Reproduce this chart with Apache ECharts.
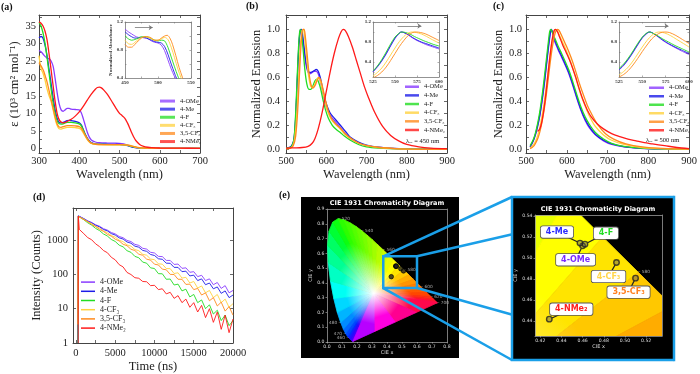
<!DOCTYPE html>
<html>
<head>
<meta charset="utf-8">
<title>Figure</title>
<script src="https://cdn.jsdelivr.net/npm/echarts@6.0.0/dist/echarts.min.js"></script>
<style>
  html, body { margin: 0; padding: 0; background: #fff; }
  #fig { width: 700px; height: 374px; }
</style>
</head>
<body>
<div id="fig"></div>
<script>
// ---------- data ----------
const names = ['4-OMe', '4-Me', '4-F', '4-CF₃', '3,5-CF₃', '4-NMe₂'];
const colors = ['#8a3cff', '#1c1ce8', '#22dd22', '#ffd23f', '#ff8a1c', '#ff1a1a'];

// (a) absorption, epsilon (10^3 cm2 mol-1) vs wavelength (nm)
const absOMe = [[300,28.0],[305,27.6],[310,27.0],[315,26.3],[320,25.8],[325,25.6],[330,25.0],[335,23.5],[340,20.0],[345,16.0],[350,12.8],[355,11.0],[360,10.6],[365,11.0],[370,11.4],[375,11.4],[380,11.2],[390,11.1],[400,11.0],[405,10.2],[410,8.5],[415,6.5],[420,4.6],[425,3.2],[430,2.4],[440,1.8],[450,1.6],[470,1.5],[490,1.45],[500,1.4],[510,1.25],[520,0.9],[530,0.45],[540,0.2],[550,0.08],[570,0.02],[600,0],[700,0]];
const absMe = [[300,31.6],[305,32.0],[310,31.5],[315,29.5],[320,26.5],[325,22.5],[330,18.5],[335,14.5],[340,11.0],[345,8.6],[350,7.4],[355,7.3],[360,7.4],[370,7.9],[375,8.0],[380,7.9],[390,7.7],[400,7.3],[405,6.7],[410,5.4],[415,4.0],[420,2.9],[425,2.1],[430,1.6],[440,1.25],[460,1.15],[480,1.1],[500,1.1],[510,1.0],[520,0.75],[530,0.4],[540,0.18],[550,0.07],[570,0.02],[600,0],[700,0]];
const absF = [[300,36.0],[305,35.0],[310,33.0],[315,30.0],[320,26.0],[325,21.5],[330,17.0],[335,13.0],[340,10.0],[345,7.9],[350,7.0],[355,6.9],[360,7.0],[370,7.4],[380,7.4],[390,7.3],[400,7.0],[405,6.5],[410,5.2],[415,3.8],[420,2.7],[425,1.9],[430,1.5],[440,1.2],[460,1.1],[500,1.05],[510,1.0],[520,0.85],[530,0.55],[540,0.25],[550,0.1],[570,0.02],[600,0],[700,0]];
const absCF3 = [[300,26.5],[303,24.0],[306,22.5],[310,21.5],[315,19.5],[320,17.0],[325,15.0],[330,13.5],[335,11.0],[340,8.5],[345,6.5],[350,5.6],[355,5.5],[360,5.7],[370,6.0],[380,6.0],[390,5.9],[400,5.7],[405,5.3],[410,4.4],[415,3.4],[420,2.5],[425,1.8],[430,1.4],[440,1.1],[460,1.0],[500,1.0],[515,0.95],[525,0.8],[535,0.5],[545,0.22],[555,0.08],[575,0.02],[600,0],[700,0]];
const absCF35 = [[300,24.5],[305,23.6],[308,23.0],[312,22.0],[316,20.5],[320,19.0],[325,16.5],[330,14.0],[335,11.5],[340,9.0],[345,7.0],[350,6.1],[355,6.0],[360,6.2],[370,6.5],[380,6.5],[390,6.4],[400,6.2],[405,5.8],[410,4.8],[415,3.7],[420,2.7],[425,1.9],[430,1.5],[440,1.15],[460,1.05],[500,1.05],[515,1.0],[525,0.85],[535,0.55],[545,0.25],[555,0.09],[575,0.02],[600,0],[700,0]];
const absNMe2 = [[300,36.2],[305,35.8],[310,35.0],[315,33.5],[320,31.0],[325,27.0],[330,22.5],[335,18.0],[340,13.5],[345,10.0],[350,8.2],[355,7.5],[360,7.3],[365,7.4],[370,7.7],[380,8.3],[390,9.2],[400,10.4],[410,12.0],[420,13.8],[430,15.5],[440,16.9],[445,17.4],[450,17.5],[455,17.3],[460,16.8],[470,15.4],[480,13.6],[490,11.7],[500,10.0],[505,9.5],[510,9.0],[515,8.3],[520,7.2],[525,5.9],[530,4.5],[535,3.3],[540,2.3],[550,1.1],[560,0.55],[570,0.3],[580,0.18],[600,0.08],[650,0.02],[700,0]];

// (a) inset, normalized absorbance
const insAOMe = [[450,1.10],[455,1.06],[460,1.03],[465,1.00],[470,0.98],[475,0.98],[480,0.97],[485,0.96],[490,0.93],[495,0.91],[500,0.90],[505,0.87],[510,0.79],[515,0.66],[520,0.53],[525,0.42],[528,0.36]];
const insAMe = [[450,1.06],[455,1.02],[460,0.99],[465,0.97],[470,0.97],[475,0.98],[480,0.98],[485,0.96],[490,0.94],[495,0.92],[500,0.91],[505,0.90],[510,0.85],[515,0.74],[520,0.60],[525,0.47],[530,0.35]];
const insAF = [[450,1.00],[455,0.96],[460,0.94],[465,0.95],[470,0.97],[475,0.99],[480,0.99],[485,0.98],[490,0.96],[495,0.94],[500,0.93],[505,0.94],[510,0.93],[515,0.84],[520,0.70],[525,0.56],[530,0.43],[533,0.36]];
const insACF3 = [[450,0.94],[455,0.89],[460,0.88],[465,0.91],[470,0.95],[475,0.98],[480,0.99],[485,0.98],[490,0.96],[495,0.94],[500,0.94],[505,0.96],[510,0.98],[515,0.95],[520,0.84],[525,0.69],[530,0.53],[535,0.40],[537,0.35]];
const insACF35 = [[450,0.88],[455,0.84],[460,0.84],[465,0.88],[470,0.93],[475,0.97],[480,0.99],[485,0.99],[490,0.97],[495,0.94],[500,0.94],[505,0.97],[510,1.00],[514,1.01],[518,0.97],[522,0.88],[527,0.72],[532,0.55],[537,0.41],[540,0.34]];
const arrowA = [[465, 1.12], [492, 1.12]];

// (b) emission, excitation 450 nm
const emBOMe = [[500,0.01],[510,0.015],[515,0.03],[520,0.08],[524,0.25],[528,0.55],[532,0.85],[535,0.98],[537,1.0],[540,0.95],[545,0.82],[550,0.7],[555,0.64],[560,0.63],[565,0.64],[570,0.65],[575,0.65],[580,0.63],[585,0.57],[590,0.49],[595,0.41],[600,0.35],[610,0.28],[620,0.24],[630,0.2],[640,0.16],[650,0.12],[660,0.09],[680,0.05],[700,0.03],[730,0.015],[770,0.006],[820,0.002],[900,0]];
const emBMe = [[500,0.012],[510,0.018],[515,0.035],[520,0.09],[524,0.27],[528,0.57],[532,0.87],[535,0.98],[538,1.0],[541,0.96],[545,0.85],[550,0.72],[555,0.65],[560,0.64],[565,0.645],[570,0.655],[575,0.665],[580,0.65],[585,0.6],[590,0.52],[595,0.44],[600,0.38],[610,0.3],[620,0.26],[630,0.22],[640,0.18],[650,0.14],[660,0.1],[680,0.06],[700,0.035],[730,0.017],[770,0.007],[820,0.002],[900,0]];
const emBF = [[500,0.01],[510,0.015],[515,0.03],[520,0.09],[524,0.3],[528,0.62],[532,0.9],[535,1.0],[538,0.97],[542,0.85],[547,0.66],[552,0.54],[557,0.5],[562,0.5],[567,0.53],[572,0.57],[577,0.585],[582,0.55],[587,0.49],[592,0.41],[598,0.33],[605,0.26],[615,0.2],[625,0.165],[635,0.14],[645,0.11],[660,0.075],[680,0.04],[700,0.02],[730,0.01],[780,0.003],[900,0]];
const emBCF3 = [[500,0.005],[510,0.01],[517,0.03],[522,0.1],[527,0.3],[532,0.62],[536,0.88],[540,0.99],[543,1.0],[546,0.94],[550,0.8],[555,0.64],[560,0.54],[565,0.515],[570,0.53],[575,0.57],[580,0.6],[585,0.57],[590,0.5],[596,0.41],[603,0.32],[612,0.25],[622,0.21],[632,0.18],[645,0.13],[660,0.09],[680,0.05],[700,0.03],[730,0.015],[780,0.004],[900,0]];
const emBCF35 = [[500,0.005],[510,0.008],[518,0.03],[524,0.11],[529,0.32],[534,0.66],[538,0.9],[542,1.0],[545,1.0],[548,0.94],[552,0.81],[557,0.64],[562,0.54],[567,0.51],[572,0.53],[577,0.57],[582,0.6],[587,0.57],[592,0.5],[598,0.41],[605,0.32],[614,0.25],[624,0.21],[634,0.18],[647,0.13],[662,0.09],[682,0.05],[702,0.03],[732,0.015],[782,0.004],[900,0]];
const emBNMe2 = [[500,0.01],[520,0.012],[540,0.015],[555,0.025],[565,0.05],[572,0.09],[580,0.17],[590,0.31],[600,0.48],[610,0.65],[620,0.8],[630,0.92],[637,0.98],[642,1.0],[647,0.99],[655,0.94],[665,0.85],[675,0.74],[685,0.63],[695,0.52],[705,0.43],[720,0.31],[740,0.19],[760,0.115],[780,0.07],[800,0.04],[830,0.02],[860,0.01],[900,0.005]];
const insBOMe = [[525,0.2],[530,0.3],[535,0.42],[540,0.56],[545,0.72],[550,0.87],[554,0.96],[557,1.0],[560,0.99],[565,0.94],[570,0.88],[575,0.83],[580,0.79],[585,0.75],[590,0.72],[595,0.69],[600,0.66]];
const insBMe = [[525,0.21],[530,0.31],[535,0.43],[540,0.57],[545,0.73],[550,0.88],[554,0.96],[557,1.0],[560,0.99],[565,0.95],[570,0.89],[575,0.84],[580,0.8],[585,0.77],[590,0.74],[595,0.71],[600,0.68]];
const insBF = [[525,0.22],[530,0.32],[535,0.45],[540,0.6],[545,0.76],[550,0.9],[555,0.98],[558,1.0],[562,0.99],[567,0.96],[572,0.91],[577,0.87],[582,0.83],[588,0.79],[594,0.75],[600,0.72]];
const insBCF3 = [[525,0.12],[530,0.19],[535,0.28],[540,0.4],[545,0.54],[550,0.68],[555,0.81],[560,0.91],[565,0.98],[569,1.0],[574,0.99],[580,0.96],[586,0.91],[592,0.85],[600,0.78]];
const insBCF35 = [[525,0.08],[530,0.13],[535,0.2],[540,0.3],[545,0.43],[550,0.57],[555,0.71],[560,0.83],[565,0.93],[570,0.99],[574,1.0],[579,0.99],[585,0.96],[592,0.9],[600,0.83]];
const arrowB = [[553, 1.12], [580, 1.12]];

// (c) emission, excitation 500 nm
const emCOMe = [[510,0.02],[515,0.05],[520,0.09],[525,0.14],[530,0.21],[535,0.3],[540,0.41],[545,0.54],[550,0.69],[555,0.84],[559,0.95],[562,1.0],[565,0.97],[570,0.9],[575,0.86],[580,0.82],[587,0.77],[595,0.71],[605,0.63],[615,0.53],[625,0.42],[635,0.32],[645,0.24],[655,0.18],[670,0.12],[690,0.07],[710,0.04],[740,0.02],[780,0.008],[830,0.003],[900,0]];
const emCMe = [[510,0.02],[515,0.05],[520,0.09],[525,0.15],[530,0.22],[535,0.31],[540,0.43],[545,0.56],[550,0.71],[555,0.86],[559,0.96],[562,1.0],[565,0.98],[570,0.92],[575,0.87],[580,0.83],[587,0.78],[595,0.72],[605,0.64],[615,0.54],[625,0.43],[635,0.33],[645,0.25],[655,0.19],[670,0.125],[690,0.075],[710,0.045],[740,0.022],[780,0.009],[830,0.003],[900,0]];
const emCF = [[510,0.03],[515,0.06],[520,0.1],[525,0.16],[530,0.24],[535,0.34],[540,0.46],[545,0.6],[550,0.75],[555,0.9],[558,0.98],[561,1.0],[564,0.98],[570,0.93],[575,0.89],[580,0.85],[587,0.8],[595,0.74],[605,0.66],[615,0.56],[625,0.45],[635,0.35],[645,0.27],[655,0.21],[670,0.14],[690,0.085],[710,0.05],[740,0.025],[780,0.01],[830,0.003],[900,0]];
const emCCF3 = [[510,0.01],[515,0.025],[520,0.045],[525,0.08],[530,0.13],[535,0.2],[540,0.29],[545,0.4],[550,0.53],[555,0.67],[560,0.81],[565,0.92],[569,0.98],[572,1.0],[576,0.99],[582,0.95],[590,0.89],[598,0.83],[606,0.76],[615,0.67],[625,0.56],[635,0.45],[645,0.36],[655,0.28],[670,0.19],[690,0.12],[710,0.075],[740,0.04],[780,0.017],[830,0.006],[900,0.001]];
const emCCF35 = [[510,0.005],[515,0.015],[520,0.03],[525,0.06],[530,0.1],[535,0.16],[540,0.24],[545,0.34],[550,0.46],[555,0.6],[560,0.74],[565,0.86],[570,0.95],[574,0.99],[577,1.0],[581,0.99],[587,0.95],[595,0.89],[603,0.83],[611,0.76],[620,0.67],[630,0.56],[640,0.46],[650,0.37],[660,0.3],[675,0.21],[695,0.13],[715,0.085],[745,0.045],[785,0.02],[835,0.007],[900,0.002]];
const emCNMe2 = [[528,0.15],[532,0.16],[536,0.19],[540,0.25],[545,0.36],[550,0.5],[555,0.66],[560,0.81],[565,0.93],[569,0.99],[572,1.0],[577,0.98],[583,0.93],[590,0.87],[598,0.81],[606,0.75],[614,0.68],[622,0.6],[630,0.51],[640,0.41],[650,0.33],[660,0.27],[675,0.21],[690,0.17],[710,0.13],[730,0.105],[750,0.085],[770,0.07],[790,0.055],[810,0.045],[840,0.03],[870,0.015],[900,0.005]];
const insCOMe = [[525,0.24],[530,0.33],[535,0.45],[540,0.59],[545,0.74],[550,0.88],[555,0.97],[558,1.0],[562,0.97],[567,0.9],[572,0.83],[578,0.76],[585,0.69],[592,0.62],[600,0.55]];
const insCMe = [[525,0.25],[530,0.34],[535,0.46],[540,0.6],[545,0.75],[550,0.89],[555,0.98],[558,1.0],[562,0.97],[567,0.91],[572,0.84],[578,0.77],[585,0.7],[592,0.64],[600,0.57]];
const insCF = [[525,0.27],[530,0.36],[535,0.48],[540,0.62],[545,0.77],[550,0.9],[554,0.97],[557,1.0],[561,0.98],[566,0.93],[572,0.86],[578,0.8],[585,0.73],[592,0.67],[600,0.6]];
const insCCF3 = [[525,0.14],[530,0.21],[535,0.3],[540,0.42],[545,0.56],[550,0.7],[555,0.83],[560,0.93],[565,0.99],[569,1.0],[574,0.98],[580,0.93],[587,0.85],[594,0.77],[600,0.7]];
const insCCF35 = [[525,0.1],[530,0.15],[535,0.23],[540,0.34],[545,0.47],[550,0.61],[555,0.74],[560,0.86],[565,0.94],[570,0.99],[574,1.0],[579,0.99],[586,0.93],[593,0.85],[600,0.77]];
const arrowC = [[553, 1.12], [578, 1.12]];

// (d) decays: onset points, then counts every 500 ns
const decayT = [500,1000,1500,2000,2500,3000,3500,4000,4500,5000,5500,6000,6500,7000,7500,8000,8500,9000,9500,10000,10500,11000,11500,12000,12500,13000,13500,14000,14500,15000,15500,16000,16500,17000,17500,18000,18500,19000,19500,20000];
const headOMe = [[250,1],[300,5100]];
const headMe = [[250,1],[300,5050]];
const headF = [[250,1],[300,4950]];
const headCF3 = [[250,3.5],[300,4900]];
const headCF35 = [[250,3.5],[300,4900]];
const headNMe2 = [[280,1],[300,5000],[420,2050]];
const cntOMe = [4750,4230,3620,3260,2790,2530,2150,1950,1660,1510,1270,1170,975,905,750,700,575,545,440,420,335,330,255,255,195,200,150,155,115,120,86,94,66,74,50,58,39,47,29,34];
const cntMe = [4740,4170,3560,3170,2690,2420,2030,1850,1540,1400,1160,1070,880,810,665,620,500,470,380,355,285,275,212,210,160,160,120,124,90,95,66,74,50,56,38,43,28,33,21,25];
const cntF = [4660,3910,3180,2720,2190,1890,1510,1310,1040,910,710,635,490,440,335,305,228,212,155,148,105,104,72,73,49,52,33,37,22,26,15,18,10,13,7,9,4.5,6.5,3.2,4.5];
const cntCF3 = [4710,4080,3430,3020,2510,2230,1850,1640,1350,1220,990,900,725,665,530,490,385,362,280,268,203,198,148,147,106,111,78,82,56,62,40,46,29,34,21,26,15,19,11,14];
const cntCF35 = [4700,3950,3430,2840,2480,2050,1790,1470,1300,1060,945,755,685,540,495,388,360,278,260,198,188,142,136,100,99,72,72,51,52,36,39,25,29,17,21,12,15.5,8.5,11.5,6.5];
const cntNMe2 = [1900,1530,1180,1020,775,645,495,428,315,265,192,165,114,99,80,77,62,61,47,48,36,38,27,30,20,24,15,19,11,15,8,12.5,5.5,10,4,8,2.5,6.5,2,5];

// (e) CIE 1931 chromaticity
const cieX = [0.460, 0.4575, 0.4622, 0.492, 0.510, 0.4285];
const cieY = [0.5117, 0.5143, 0.5133, 0.4958, 0.481, 0.442];
const locusNm = [380,400,420,430,440,450,460,465,470,475,480,485,490,495,500,505,510,515,520,525,530,535,540,545,550,555,560,565,570,575,580,585,590,595,600,605,610,620,630,640,650,660,680,700];
const locusX = [0.1741,0.1733,0.1714,0.1689,0.1644,0.1566,0.1440,0.1355,0.1241,0.1096,0.0913,0.0687,0.0454,0.0235,0.0082,0.0039,0.0139,0.0389,0.0743,0.1142,0.1547,0.1929,0.2296,0.2658,0.3016,0.3373,0.3731,0.4087,0.4441,0.4788,0.5125,0.5448,0.5752,0.6029,0.6270,0.6482,0.6658,0.6915,0.7079,0.7190,0.7260,0.7300,0.7334,0.7347];
const locusY = [0.0050,0.0048,0.0051,0.0069,0.0109,0.0177,0.0297,0.0399,0.0578,0.0868,0.1327,0.2007,0.2950,0.4127,0.5384,0.6548,0.7502,0.8120,0.8338,0.8262,0.8059,0.7816,0.7543,0.7243,0.6923,0.6589,0.6245,0.5896,0.5547,0.5202,0.4866,0.4544,0.4242,0.3965,0.3725,0.3514,0.3340,0.3083,0.2920,0.2809,0.2740,0.2700,0.2666,0.2653];
const locusColor = ['#8000ff','#7400ff','#6400ff','#5400ff','#3c00ff','#2010ff','#0030ff','#0048ff','#0068ff','#008cff','#00b4ff','#00d8ff','#00fff4','#00ffc4','#00ff94','#00ff64','#00ff34','#0cff10','#2cff00','#40ff00','#54ff00','#66ff00','#78ff00','#8cff00','#a0ff00','#b6ff00','#ccff00','#e8ff00','#ffff00','#ffe400','#ffc800','#ffac00','#ff9400','#ff7e00','#ff6a00','#ff5800','#ff4600','#ff3010','#ff1e20','#ff142c','#ff1034','#ff0c3c','#ff0a44','#ff084c'];
const purpleX = [0.594, 0.454, 0.314];
const purpleY = [0.200, 0.135, 0.070];
const purpleColor = ['#ff0090', '#ff00e0', '#b800ff'];
const whitePoint = [0.3127, 0.3290];
const tickNmRight = [520, 540, 560, 580, 600, 620, 700];
const tickNmLeft = [480, 470, 460];
const zoomRect = [0.375, 0.365, 0.6, 0.58];

// ---------- helpers ----------
const SERIF = 'Liberation Serif', SANS = 'DejaVu Sans';
const labelColors = ['#7a2cff', '#2a2aff', '#22dd22', '#ffd54a', '#ff8020', '#ff2020'];
const labelOffsets = [[-7, 14], [-23, -11], [21, -11], [-8, 14], [-7, 14], [22, -10]];

function merge(a, b) {
  const out = Object.assign({}, a);
  for (const k in b) {
    const v = b[k];
    if (v && typeof v === 'object' && !Array.isArray(v) && out[k] && typeof out[k] === 'object' && !Array.isArray(out[k])) {
      out[k] = merge(out[k], v);
    } else {
      out[k] = v;
    }
  }
  return out;
}
function range(a, b, step) {
  const r = [];
  for (let v = a; v <= b + 1e-9; v += step) r.push(Math.round(v * 1000) / 1000);
  return r;
}

const xAxis = [], yAxis = [];
// bottom/left axes carry the labels, top/right just close the box
function frame(grid, xo, yo) {
  const xi = xAxis.length, yi = yAxis.length;
  xAxis.push(merge(xo, {gridIndex: grid, position: 'bottom'}));
  xAxis.push(merge(xo, {gridIndex: grid, position: 'top', name: '', axisLabel: {show: false}}));
  yAxis.push(merge(yo, {gridIndex: grid, position: 'left'}));
  yAxis.push(merge(yo, {gridIndex: grid, position: 'right', name: '', axisLabel: {show: false}}));
  return [xi, yi];
}
function mainAx(type, min, max, labels, ticks, fmt, name, gap, margin) {
  return {
    type: type, min: min, max: max, name: name, nameLocation: 'middle', nameGap: gap,
    nameTextStyle: {fontFamily: SERIF, fontSize: 12.5, color: '#222'},
    axisLine: {show: true, onZero: false, lineStyle: {color: '#444', width: 1}},
    axisTick: {show: true, inside: true, length: 3, customValues: ticks, lineStyle: {color: '#444', width: 0.8}},
    axisLabel: {show: true, customValues: labels, formatter: fmt, fontFamily: SERIF, fontSize: 10.5, color: '#222', margin: margin},
    splitLine: {show: false}
  };
}
function insetAx(min, max, labels, ticks, fmt, name) {
  return {
    type: 'value', min: min, max: max, name: name || '', nameLocation: 'middle', nameGap: 9,
    nameTextStyle: {fontFamily: SERIF, fontSize: 5, color: '#333', fontWeight: 'bold'},
    axisLine: {show: true, onZero: false, lineStyle: {color: '#777', width: 0.8}},
    axisTick: {show: true, inside: true, length: 1.5, customValues: ticks, lineStyle: {color: '#777', width: 0.6}},
    axisLabel: {show: true, customValues: labels, formatter: fmt, fontFamily: SERIF, fontSize: 5, fontWeight: 'bold', color: '#333', margin: 2},
    splitLine: {show: false}
  };
}
function cieAx(min, max, labels, fmt, name, gap, z) {
  return {
    type: 'value', min: min, max: max, name: name, nameLocation: 'middle', nameGap: gap, z: z,
    nameTextStyle: {fontFamily: SANS, fontSize: 5, color: '#ddd'},
    axisLine: {show: true, onZero: false, lineStyle: {color: '#999', width: 0.8}},
    axisTick: {show: true, inside: false, length: 1.5, customValues: labels, lineStyle: {color: '#bbb', width: 0.6}},
    axisLabel: {show: true, customValues: labels, formatter: fmt, fontFamily: SANS, fontSize: 4.6, color: '#ddd', margin: 2.5},
    splitLine: {show: false}
  };
}
const f1 = v => v.toFixed(1);
const f2 = v => v.toFixed(2);
const fi = v => String(Math.round(v));

function spectra(sets, ax, width, z) {
  return sets.map((d, k) => ({
    name: names[k], type: 'line', xAxisIndex: ax[0], yAxisIndex: ax[1], data: d,
    smooth: 0.3, showSymbol: false, symbol: 'none', z: z || 3,
    lineStyle: {width: width, color: colors[k]}, itemStyle: {color: colors[k]}
  }));
}
function arrow(pts) {
  return {
    silent: true, symbol: ['none', 'arrow'], symbolSize: 4, animation: false,
    lineStyle: {color: '#777', type: 'solid', width: 0.8}, label: {show: false},
    data: [[{coord: pts[0]}, {coord: pts[1]}]]
  };
}
function legendAt(left, top, rowH, font, w, h, opacity) {
  return {
    left: left, top: top, orient: 'vertical', padding: 0, itemGap: 0, itemWidth: w, itemHeight: h,
    icon: 'rect', data: names.slice(), selectedMode: false, itemStyle: {opacity: opacity},
    textStyle: {fontFamily: SERIF, fontSize: font, color: '#222', lineHeight: rowH}
  };
}

// ---------- grids ----------
const grid = [
  {left: 39, top: 15, width: 161, height: 138},    // (a)
  {left: 125, top: 22, width: 66, height: 56},     // (a) inset
  {left: 286, top: 15, width: 161, height: 138},   // (b)
  {left: 373, top: 22, width: 66, height: 55},     // (b) inset
  {left: 526, top: 15, width: 167, height: 138},   // (c)
  {left: 619, top: 22, width: 70, height: 55},     // (c) inset
  {left: 73, top: 208, width: 160, height: 135},   // (d)
  {left: 327, top: 209, width: 120, height: 133},  // (e) full diagram
  {left: 535, top: 215, width: 127, height: 121}   // (e) zoom
];

const emTicksY = range(0, 1.1, 0.1), emLabY = range(0, 1, 0.2);
const nmTicks = range(500, 900, 50), nmLab = range(500, 900, 100);

const axA = frame(0,
  mainAx('value', 300, 700, range(300, 700, 100), range(300, 700, 50), fi, 'Wavelength (nm)', 13, 3),
  mainAx('value', -1.35, 38.15, range(0, 35, 5), range(0, 37.5, 2.5), fi, 'ε (10³ cm² mol⁻¹)', 18, 3));
const axAi = frame(1,
  insetAx(450, 550, [450, 500, 550], range(450, 550, 25), fi),
  insetAx(0.4, 1.2, [0.4, 0.8, 1.2], range(0.4, 1.2, 0.2), f1, 'Normalized Absorbance'));
const axB = frame(2,
  mainAx('value', 500, 900, nmLab, nmTicks, fi, 'Wavelength (nm)', 13, 3),
  mainAx('value', -0.031, 1.119, emLabY, emTicksY, f1, 'Normalized Emission', 21, 6));
const axBi = frame(3,
  insetAx(525, 600, [525, 550, 575, 600], range(525, 600, 25), fi),
  insetAx(0.1, 1.2, [0.4, 0.8, 1.2], range(0.2, 1.2, 0.2), f1));
const axC = frame(4,
  mainAx('value', 500, 900, nmLab, nmTicks, fi, 'Wavelength (nm)', 13, 3),
  mainAx('value', -0.031, 1.119, emLabY, emTicksY, f1, 'Normalized Emission', 15, 4));
const axCi = frame(5,
  insetAx(525, 600, [525, 550, 575, 600], range(525, 600, 25), fi),
  insetAx(0.1, 1.2, [0.4, 0.8, 1.2], range(0.2, 1.2, 0.2), f1));
const axD = frame(6,
  mainAx('value', -380, 20000, range(0, 20000, 5000), range(0, 20000, 2500), fi, 'Time (ns)', 15, 5),
  merge(mainAx('log', 1, 8600, null, null, fi, 'Intensity (Counts)', 25, 5),
    {logBase: 10, axisLabel: {showMaxLabel: false}, axisTick: {customValues: null}}));
const axE = frame(7,
  cieAx(0, 0.8, range(0, 0.8, 0.1), f1, 'CIE x', 8, 0),
  cieAx(0, 0.9, range(0, 0.9, 0.1), f1, 'CIE y', 13, 0));
const axZ = frame(8,
  cieAx(0.415, 0.535, range(0.42, 0.52, 0.02), f2, 'CIE x', 8, 70),
  cieAx(0.426, 0.541, range(0.44, 0.54, 0.02), f2, 'CIE y', 15, 70));
// the dark CIE plots have no ticks on top/right
[axE, axZ].forEach(a => {
  xAxis[a[0] + 1].axisTick = {show: false};
  yAxis[a[1] + 1].axisTick = {show: false};
});

// ---------- series ----------
let series = [];
series = series.concat(spectra([absOMe, absMe, absF, absCF3, absCF35, absNMe2], axA, 1.3));
const sAi = spectra([insAOMe, insAMe, insAF, insACF3, insACF35], axAi, 0.9);
sAi[0].markLine = arrow(arrowA);
series = series.concat(sAi);
series = series.concat(spectra([emBOMe, emBMe, emBF, emBCF3, emBCF35, emBNMe2], axB, 1.3));
const sBi = spectra([insBOMe, insBMe, insBF, insBCF3, insBCF35], axBi, 0.9);
sBi[0].markLine = arrow(arrowB);
series = series.concat(sBi);
series = series.concat(spectra([emCOMe, emCMe, emCF, emCCF3, emCCF35, emCNMe2], axC, 1.3));
const sCi = spectra([insCOMe, insCMe, insCF, insCCF3, insCCF35], axCi, 0.9);
sCi[0].markLine = arrow(arrowC);
series = series.concat(sCi);

const heads = [headOMe, headMe, headF, headCF3, headCF35, headNMe2];
const counts = [cntOMe, cntMe, cntF, cntCF3, cntCF35, cntNMe2];
counts.forEach((c, k) => {
  series.push({
    name: names[k], type: 'line', xAxisIndex: axD[0], yAxisIndex: axD[1],
    data: heads[k].concat(decayT.map((t, i) => [t, c[i]])),
    showSymbol: false, symbol: 'none', z: 3,
    lineStyle: {width: 0.9, color: colors[k]}, itemStyle: {color: colors[k]}
  });
});

// chromaticity boundary: spectral locus followed by the line of purples,
// filled as a fan of triangles shading from the white point to each edge colour
const bndX = locusX.concat(purpleX), bndY = locusY.concat(purpleY), bndC = locusColor.concat(purpleColor);
function fan(ax, z) {
  return {
    type: 'custom', xAxisIndex: ax[0], yAxisIndex: ax[1], clip: true, silent: true, z: z,
    data: bndX.map((x, i) => [x, bndY[i], i]),
    renderItem: function (params, api) {
      const i = api.value(2), j = (i + 1) % bndX.length;
      const w = api.coord(whitePoint);
      const p1 = api.coord([bndX[i], bndY[i]]), p2 = api.coord([bndX[j], bndY[j]]);
      const mx = (p1[0] + p2[0]) / 2, my = (p1[1] + p2[1]) / 2;
      const g = new echarts.graphic.LinearGradient(w[0], w[1], mx, my, [
        {offset: 0, color: '#ffffff'}, {offset: 0.68, color: bndC[i]}, {offset: 1, color: bndC[i]}], true);
      return {type: 'polygon', shape: {points: [w, p1, p2]}, style: {fill: g, stroke: g, lineWidth: 0.6}};
    }
  };
}
function locusTicks(ax, z) {
  const items = [];
  tickNmRight.forEach(nm => {
    const i = locusNm.indexOf(nm);
    items.push({value: [locusX[i], locusY[i], nm], label: {position: 'right', formatter: '– ' + nm}});
  });
  tickNmLeft.forEach(nm => {
    const i = locusNm.indexOf(nm);
    items.push({value: [locusX[i], locusY[i], nm], label: {position: 'left', formatter: nm + ' –'}});
  });
  return {
    type: 'scatter', xAxisIndex: ax[0], yAxisIndex: ax[1], symbolSize: 0.1, silent: true, z: z,
    data: items, itemStyle: {color: 'rgba(0,0,0,0)'},
    label: {show: true, distance: 0, color: '#ccc', fontFamily: SANS, fontSize: 4.3}
  };
}
const ciePts = cieX.map((x, i) => [x, cieY[i]]);

series.push(fan(axE, 1));
series.push(locusTicks(axE, 4));
series.push({
  type: 'scatter', xAxisIndex: axE[0], yAxisIndex: axE[1], data: ciePts, symbolSize: 4.5, z: 5, silent: true,
  itemStyle: {color: '#222', borderColor: '#000', borderWidth: 0.8}
});
series.push({
  type: 'custom', xAxisIndex: axE[0], yAxisIndex: axE[1], z: 6, silent: true,
  data: [zoomRect],
  renderItem: function (params, api) {
    const a = api.coord([api.value(0), api.value(3)]), b = api.coord([api.value(2), api.value(1)]);
    return {type: 'rect', shape: {x: a[0], y: a[1], width: b[0] - a[0], height: b[1] - a[1]},
      style: {fill: 'none', stroke: '#1a9fe8', lineWidth: 2.5}};
  }
});

series.push(fan(axZ, 65));
series.push(locusTicks(axZ, 71));
series.push({
  type: 'scatter', xAxisIndex: axZ[0], yAxisIndex: axZ[1], data: ciePts, symbolSize: 5.5, z: 71, silent: true,
  itemStyle: {color: 'rgba(90,90,90,0.55)', borderColor: '#222', borderWidth: 1.4}
});
series.push({
  type: 'custom', xAxisIndex: axZ[0], yAxisIndex: axZ[1], z: 72, silent: true,
  data: cieX.map((x, i) => [x, cieY[i], i]),
  renderItem: function (params, api) {
    const i = api.value(2);
    const p = api.coord([api.value(0), api.value(1)]);
    const o = labelOffsets[i];
    const len = Math.sqrt(o[0] * o[0] + o[1] * o[1]);
    const s = [p[0] + o[0] / len * 3, p[1] + o[1] / len * 3];
    const c = [p[0] + o[0], p[1] + o[1]];
    return {type: 'group', children: [
      {type: 'line', shape: {x1: s[0], y1: s[1], x2: c[0], y2: c[1]}, style: {stroke: '#222', lineWidth: 1.2}},
      {type: 'text', x: c[0], y: c[1], style: {
        text: names[i], fill: labelColors[i], font: 'bold 8px "DejaVu Sans"',
        align: 'center', verticalAlign: 'middle', backgroundColor: '#fff',
        borderColor: '#555', borderWidth: 0.8, borderRadius: 2, padding: [2, 5, 1.5, 5]}}
    ]};
  }
});

const option = {
  animation: false,
  textStyle: {fontFamily: SERIF},
  grid: grid,
  xAxis: xAxis,
  yAxis: yAxis,
  legend: [
    legendAt(160, 97, 8.1, 6.5, 15, 3, 0.75),
    legendAt(405, 82.4, 8.65, 6.5, 14, 2.5, 0.8),
    legendAt(649, 83.5, 8.5, 6.5, 15, 2.5, 0.8),
    legendAt(81, 277.5, 9.2, 8, 14, 1.5, 1)
  ],
  series: series
};

const chart = echarts.init(document.getElementById('fig'), null, {renderer: 'canvas'});
chart.setOption(option);

// decoration: dark panels, zoom connectors and free text
const boxR = {x: 512, y: 197, w: 162, h: 163};
const px = v => chart.convertToPixel({xAxisIndex: axE[0], yAxisIndex: axE[1]}, v);
const rTL = px([zoomRect[0], zoomRect[3]]), rTR = px([zoomRect[2], zoomRect[3]]);
const rBR = px([zoomRect[2], zoomRect[1]]), rBL = px([zoomRect[0], zoomRect[1]]);
const link = (a, b) => ({type: 'line', z: 50, silent: true,
  shape: {x1: a[0], y1: a[1], x2: b[0], y2: b[1]}, style: {stroke: '#1a9fe8', lineWidth: 2.5}});
const txt = (x, y, text, font, fill, align, z) => ({type: 'text', z: z || 80, silent: true,
  style: {x: x, y: y, text: text, font: font, fill: fill || '#111', textAlign: align || 'left', align: align || 'left',
    textVerticalAlign: 'middle', verticalAlign: 'middle'}});

chart.setOption({
  graphic: {elements: [
    {type: 'rect', z: -1, silent: true, shape: {x: 301, y: 197, width: 158, height: 161}, style: {fill: '#000'}},
    link(rTL, [boxR.x, boxR.y]),
    link(rTR, [boxR.x + boxR.w, boxR.y]),
    link(rBR, [boxR.x + boxR.w, boxR.y + boxR.h]),
    link(rBL, [boxR.x, boxR.y + boxR.h]),
    {type: 'rect', z: 60, silent: true, shape: {x: boxR.x, y: boxR.y, width: boxR.w, height: boxR.h},
      style: {fill: '#000', stroke: '#1a9fe8', lineWidth: 2.5}},
    txt(387, 203, 'CIE 1931 Chromaticity Diagram', 'bold 6.5px "DejaVu Sans"', '#fff', 'center', 10),
    txt(598, 209, 'CIE 1931 Chromaticity Diagram', 'bold 6.5px "DejaVu Sans"', '#fff', 'center', 80),
    txt(1, 7, '(a)', 'bold 10px "Liberation Serif"'),
    txt(246, 6, '(b)', 'bold 10px "Liberation Serif"'),
    txt(493, 6, '(c)', 'bold 10px "Liberation Serif"'),
    txt(33, 197, '(d)', 'bold 10px "Liberation Serif"'),
    txt(279, 195, '(e)', 'bold 10px "Liberation Serif"'),
    txt(406, 141, 'λₑₓ = 450 nm', '6.5px "Liberation Serif"'),
    txt(646, 140, 'λₑₓ = 500 nm', '6.5px "Liberation Serif"')
  ]}
});

window.addEventListener('resize', function () {
  chart.resize();
});
</script>
</body>
</html>
